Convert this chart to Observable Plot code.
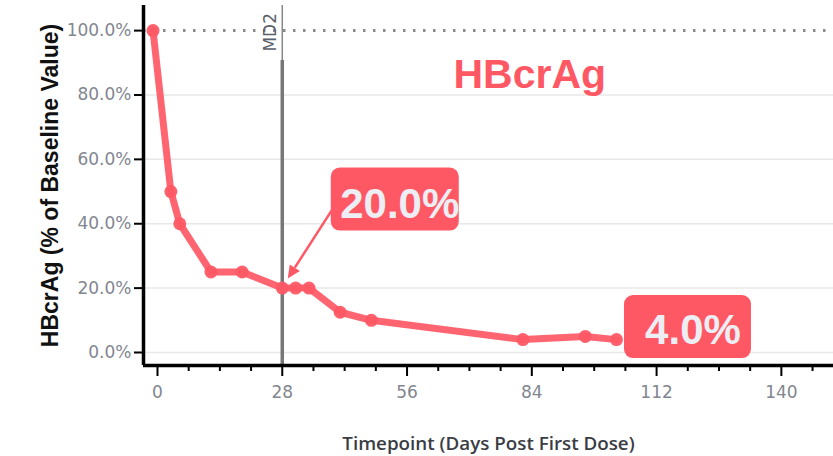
<!DOCTYPE html>
<html>
<head>
<meta charset="utf-8">
<script src="https://cdn.jsdelivr.net/npm/d3@7"></script>
<script src="https://cdn.jsdelivr.net/npm/@observablehq/plot@0.6"></script>
<style>
  html, body { margin: 0; padding: 0; background: #ffffff; }
  #chart svg { display: block; }
</style>
</head>
<body>
<div id="chart"></div>
<script>
// ---- data ----
const days   = [-1, 3, 5, 12, 19, 28, 31, 34, 41, 48, 82, 96, 103];
const values = [100, 50, 40, 25, 25, 20, 20, 20, 12.5, 10, 4, 5, 4];
const yTicks = [0, 20, 40, 60, 80, 100];
const xTicks = [0, 28, 56, 84, 112, 140];
const xMinorTicks = [7, 14, 21, 35, 42, 49, 63, 70, 77, 91, 98, 105, 119, 126, 133, 147];
const baselineValue = [100];
const doseDays = [28];
const doseLabels = ["MD2"];
const annDays = [28, 103];
const annValues = [20, 4];
const annLabels = ["20.0%", "4.0%"];
const chartTitle = ["HBcrAg"];
const yLabel = ["HBcrAg (% of Baseline Value)"];
const xLabel = ["Timepoint (Days Post First Dose)"];

const points = days.map((d, i) => ({day: d, value: values[i]}));
const RED = "#ff5865";
const xDomain = [-3.14, 151.7];
const yDomain = [-4.04, 107.8];
const TICKFONT = "'DejaVu Sans', sans-serif";

const chart = Plot.plot({
  width: 833,
  height: 456,
  marginLeft: 143,
  marginRight: 0,
  marginTop: 5,
  marginBottom: 91,
  x: {domain: xDomain},
  y: {domain: yDomain},
  style: {fontFamily: TICKFONT, fontSize: "17px", background: "#ffffff", overflow: "visible"},
  marks: [
    // grid
    Plot.ruleY(yTicks.filter(v => v !== 100), {stroke: "#e8e8e8", strokeWidth: 1.5}),
    // baseline dotted
    Plot.ruleY(baselineValue, {stroke: "#8a8a8a", strokeWidth: 3, strokeDasharray: "2.5,7.5"}),
    // MD2 vertical line: thin top part, thick below label
    Plot.ruleX(doseDays, {stroke: "#888888", strokeWidth: 1.5}),
    Plot.ruleX(doseDays, {stroke: "#777777", strokeWidth: 3.5, insetTop: 55}),
    // axes lines
    Plot.ruleX([xDomain[0]], {stroke: "#000", strokeWidth: 3.5}),
    Plot.ruleY([yDomain[0]], {stroke: "#000", strokeWidth: 3.5}),
    // axes
    Plot.axisY(yTicks, {tickSize: 9, tickPadding: 3, fontSize: 17, fill: "#82868f", stroke: "#000",
      strokeWidth: 2, tickFormat: d => d.toFixed(1) + "%", label: null, fontFamily: TICKFONT}),
    Plot.axisX(xTicks, {tickSize: 11, tickPadding: 9, fontSize: 17, fill: "#82868f", stroke: "#000",
      strokeWidth: 2, label: null, fontFamily: TICKFONT}),
    Plot.axisX(xMinorTicks, {tickSize: 6, text: null, stroke: "#000", strokeWidth: 2, label: null}),
    // series
    Plot.line(points, {x: "day", y: "value", stroke: RED, strokeWidth: 7, strokeOpacity: 0.92,
      strokeLinejoin: "round", strokeLinecap: "round"}),
    Plot.dot(points, {x: "day", y: "value", r: 6.5, fill: RED, fillOpacity: 0.95}),
    // titles / labels
    Plot.text(chartTitle, {frameAnchor: "top-left", dx: 310, dy: 82, textAnchor: "start", lineAnchor: "bottom",
      fontSize: 41, fontWeight: "bold", fill: RED, fontFamily: "'Liberation Sans', Arial, sans-serif"}),
    Plot.text(yLabel, {frameAnchor: "left", dx: -93, rotate: -90, textAnchor: "middle", lineAnchor: "middle",
      fontSize: 23, fontWeight: "bold", fill: "#111", fontFamily: "'Liberation Sans', Arial, sans-serif"}),
    Plot.text(xLabel, {frameAnchor: "bottom", dy: 78, textAnchor: "middle", lineAnchor: "middle",
      fontSize: 18.8, fontWeight: 600, fill: "#3a3d44", fontFamily: "'Open Sans', sans-serif"})
  ]
});

document.getElementById("chart").appendChild(chart);

// ---- annotations placed from the plot's own scales ----
const svg = chart.tagName.toLowerCase() === "svg" ? chart : chart.querySelector("svg");
const sx = chart.scale("x"), sy = chart.scale("y");
const g = d3.select(svg).append("g").attr("class", "annotations");

// dose label (rotated, beside the MD2 line)
doseDays.forEach((d, i) => {
  g.append("text")
    .attr("transform", `translate(${sx.apply(d) - 6},${13}) rotate(-90)`)
    .attr("text-anchor", "end")
    .attr("font-family", TICKFONT).attr("font-size", 17).attr("fill", "#5a5f6a")
    .text(doseLabels[i]);
});

const annStyle = [
  {boxLeft: 49, boxTop: -120, boxW: 128, boxH: 63, textCx: 118, baseline: -70, arrow: {x1: 53, y1: -82, x2: 6, y2: -9}},
  {boxLeft: 8, boxTop: -44, boxW: 127, boxH: 63, textCx: 77, baseline: 5, arrow: null}
];
annDays.forEach((d, i) => {
  const px = sx.apply(d), py = sy.apply(annValues[i]);
  const s = annStyle[i];
  if (s.arrow) {
    const x1 = px + s.arrow.x1, y1 = py + s.arrow.y1, x2 = px + s.arrow.x2, y2 = py + s.arrow.y2;
    const ang = Math.atan2(y2 - y1, x2 - x1);
    const hl = 13, hw = 6;
    const bx = x2 - hl * Math.cos(ang), by = y2 - hl * Math.sin(ang);
    g.append("line").attr("x1", x1).attr("y1", y1).attr("x2", bx).attr("y2", by)
      .attr("stroke", RED).attr("stroke-width", 2.5);
    g.append("path").attr("d", `M${x2},${y2}L${bx + hw * Math.sin(ang)},${by - hw * Math.cos(ang)}L${bx - hw * Math.sin(ang)},${by + hw * Math.cos(ang)}Z`)
      .attr("fill", RED);
  }
  g.append("rect").attr("x", px + s.boxLeft).attr("y", py + s.boxTop)
    .attr("width", s.boxW).attr("height", s.boxH).attr("rx", 9).attr("fill", RED);
  g.append("text").attr("x", px + s.textCx).attr("y", py + s.baseline)
    .attr("text-anchor", "middle").attr("font-family", "'Liberation Sans', Arial, sans-serif")
    .attr("font-weight", "bold").attr("font-size", 42).attr("fill", "#eceef4")
    .text(annLabels[i]);
});
</script>
</body>
</html>
